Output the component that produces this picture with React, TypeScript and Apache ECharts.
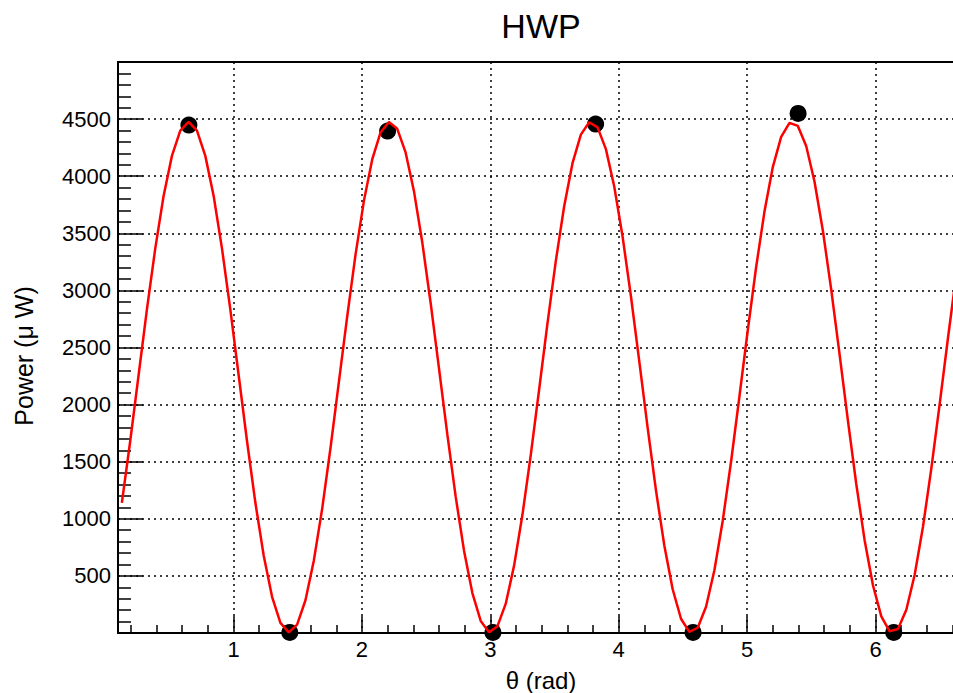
import React, { useEffect, useRef } from 'react';
import * as echarts from 'echarts';

// Fitted curve (red line)
const curveTheta = [
  0.13, 0.195, 0.26, 0.325, 0.39, 0.455, 0.52, 0.585, 0.65, 0.715,
  0.78, 0.845, 0.91, 0.975, 1.04, 1.105, 1.17, 1.235, 1.3, 1.365,
  1.43, 1.495, 1.56, 1.625, 1.69, 1.755, 1.82, 1.885, 1.95, 2.015,
  2.08, 2.145, 2.21, 2.275, 2.34, 2.405, 2.47, 2.535, 2.6, 2.665,
  2.73, 2.795, 2.86, 2.925, 2.99, 3.055, 3.12, 3.185, 3.25, 3.315,
  3.38, 3.445, 3.51, 3.575, 3.64, 3.705, 3.77, 3.835, 3.9, 3.965,
  4.03, 4.095, 4.16, 4.225, 4.29, 4.355, 4.42, 4.485, 4.55, 4.615,
  4.68, 4.745, 4.81, 4.875, 4.94, 5.005, 5.07, 5.135, 5.2, 5.265,
  5.33, 5.395, 5.46, 5.525, 5.59, 5.655, 5.72, 5.785, 5.85, 5.915,
  5.98, 6.045, 6.11, 6.175, 6.24, 6.305, 6.37, 6.435, 6.5, 6.565,
  6.63, 6.695,
];
const curvePower = [
  1140, 1679, 2255, 2831, 3366, 3826, 4178, 4400, 4475, 4400,
  4178, 3826, 3366, 2831, 2255, 1679, 1140, 676, 317, 89,
  5, 73, 287, 633, 1087, 1620, 2194, 2771, 3313, 3782,
  4147, 4383, 4474, 4415, 4208, 3869, 3419, 2890, 2317, 1739,
  1194, 721, 350, 106, 7, 58, 257, 590, 1035, 1560,
  2132, 2711, 3258, 3737, 4114, 4364, 4472, 4428, 4237, 3910,
  3471, 2949, 2379, 1799, 1249, 766, 383, 125, 10, 46,
  230, 549, 983, 1502, 2071, 2651, 3203, 3690, 4080, 4345,
  4467, 4440, 4264, 3951, 3522, 3007, 2440, 1860, 1305, 813,
  418, 146, 15, 35, 204, 510, 933, 1444, 2009, 2590,
  3147, 3643,
];

// Measured points (black markers)
const pointTheta = [0.652, 1.438, 2.2, 3.02, 3.82, 4.579, 5.397, 6.142];
const pointPower = [4448, 5, 4395, 5, 4456, 5, 4550, 5];

// Axis ticks
const xMajorTicks = [1, 2, 3, 4, 5, 6];
const xMinorTicks = [
  0.2, 0.4, 0.6, 0.8, 1.2, 1.4, 1.6, 1.8, 2.2, 2.4, 2.6, 2.8,
  3.2, 3.4, 3.6, 3.8, 4.2, 4.4, 4.6, 4.8, 5.2, 5.4, 5.6, 5.8,
  6.2, 6.4, 6.6,
];
const yTickLabels = [500, 1000, 1500, 2000, 2500, 3000, 3500, 4000, 4500];

const FONT = "'Liberation Sans', Arial, Helvetica, sans-serif";

export default function App() {
  const ref = useRef<HTMLDivElement>(null);

  useEffect(() => {
    if (!ref.current) return;
    const chart = echarts.init(ref.current, null, { renderer: 'svg' });
    const dotted = { color: '#000', type: [2, 4] as number[], width: 1.5 };
    chart.setOption({
      animation: false,
      backgroundColor: '#ffffff',
      grid: {
        left: 118,
        top: 62,
        bottom: 60,
        right: -12.4,
        containLabel: false,
        outerBoundsMode: 'none',
        show: true,
        borderColor: '#000',
        borderWidth: 2,
        backgroundColor: 'transparent',
      },
      graphic: [
        {
          type: 'text',
          x: 541,
          y: 26,
          style: {
            text: 'HWP',
            fontFamily: FONT,
            fontSize: 34,
            fill: '#000',
            textAlign: 'center',
            textVerticalAlign: 'middle',
          },
        },
        {
          type: 'text',
          x: 541,
          y: 680,
          style: {
            text: 'θ (rad)',
            fontFamily: FONT,
            fontSize: 24,
            fill: '#000',
            textAlign: 'center',
            textVerticalAlign: 'middle',
          },
        },
        {
          type: 'text',
          x: 24,
          y: 356,
          rotation: Math.PI / 2,
          style: {
            text: 'Power (μ W)',
            fontFamily: FONT,
            fontSize: 25,
            fill: '#000',
            textAlign: 'center',
            textVerticalAlign: 'middle',
          },
        },
      ],
      xAxis: [
        {
          type: 'value',
          min: 0.1,
          max: 6.7,
          position: 'bottom',
          axisLine: { show: false },
          axisTick: {
            show: true,
            inside: true,
            length: 17,
            customValues: xMajorTicks,
            lineStyle: { color: '#000', width: 1.5 },
          },
          axisLabel: {
            show: true,
            customValues: xMajorTicks,
            formatter: (v: number) => String(v),
            fontSize: 22,
            fontFamily: FONT,
            color: '#000',
            margin: 5,
          },
          splitLine: { show: true, lineStyle: dotted },
        },
        {
          type: 'value',
          gridIndex: 0,
          min: 0.1,
          max: 6.7,
          position: 'bottom',
          axisLine: { show: false },
          axisTick: {
            show: true,
            inside: true,
            length: 8,
            customValues: xMinorTicks,
            lineStyle: { color: '#000', width: 1.5 },
          },
          axisLabel: { show: false },
          splitLine: { show: false },
        },
      ],
      yAxis: {
        type: 'value',
        min: 0,
        max: 5000,
        interval: 500,
        axisLine: { show: false },
        axisTick: {
          show: true,
          inside: true,
          length: 25,
          lineStyle: { color: '#000', width: 1.5 },
        },
        minorTick: {
          show: true,
          splitNumber: 5,
          length: 13,
          lineStyle: { color: '#000', width: 1.5 },
        },
        axisLabel: {
          show: true,
          customValues: yTickLabels,
          formatter: (v: number) => String(v),
          fontSize: 22,
          fontFamily: FONT,
          color: '#000',
          margin: 7,
        },
        splitLine: { show: true, lineStyle: dotted },
        minorSplitLine: { show: false },
      },
      series: [
        {
          type: 'scatter',
          xAxisIndex: 0,
          yAxisIndex: 0,
          data: pointTheta.map((t, i) => [t, pointPower[i]]),
          symbol: 'circle',
          symbolSize: 17,
          itemStyle: { color: '#000', opacity: 1 },
          z: 2,
        },
        {
          type: 'line',
          xAxisIndex: 0,
          yAxisIndex: 0,
          data: curveTheta.map((t, i) => [t, curvePower[i]]),
          showSymbol: false,
          symbol: 'none',
          lineStyle: { color: '#ff0000', width: 2.5, opacity: 1 },
          clip: true,
          z: 3,
        },
      ],
    });
    return () => chart.dispose();
  }, []);

  return (
    <div
      ref={ref}
      style={{ position: 'absolute', left: 0, top: 0, width: 953, height: 693 }}
    />
  );
}
